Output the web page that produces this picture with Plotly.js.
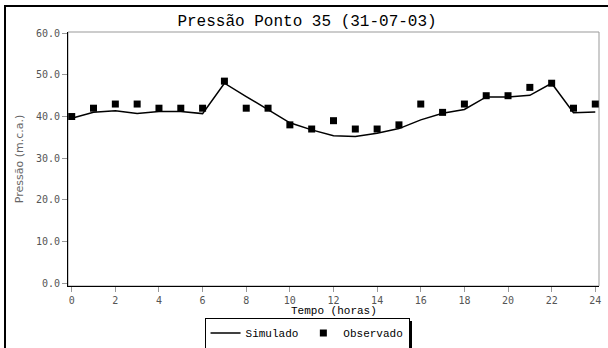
<!DOCTYPE html>
<html><head><meta charset="utf-8">
<script src="https://cdn.plot.ly/plotly-3.0.1.min.js"></script>
<style>
html,body{margin:0;padding:0;background:#fff;}
#wrap{position:relative;width:608px;height:348px;overflow:hidden;}
#chart{width:608px;height:348px;}
#frame{position:absolute;left:4px;top:5px;width:700px;height:400px;border-left:2px solid #000;border-top:2px solid #000;pointer-events:none;}
#shadow{position:absolute;background:#000;pointer-events:none;display:none;}
</style></head>
<body>
<div id="wrap"><div id="shadow"></div><div id="chart"></div><div id="frame"></div></div>
<script>
const hours = [0,1,2,3,4,5,6,7,8,9,10,11,12,13,14,15,16,17,18,19,20,21,22,23,24];
const simulado = [39.6,41.0,41.4,40.7,41.2,41.2,40.7,48.0,44.8,41.6,38.5,36.8,35.4,35.2,36.0,37.1,39.2,40.8,41.7,44.7,44.7,45.1,48.0,40.9,41.1];
const observado = [40,42,43,43,42,42,42,48.5,42,42,38,37,39,37,37,38,43,41,43,45,45,47,48,42,43];
const xTicks = [0,2,4,6,8,10,12,14,16,18,20,22,24];
const yTicks = [0,10,20,30,40,50,60];
const xTitle = "Tempo (horas)";

const mono = "Liberation Mono, Courier New, monospace";
const tickFont = {family: "DejaVu Sans Mono, monospace", size: 10, color: "#555"};

const data = [
  {x: hours, y: simulado, mode: "lines", name: "Simulado",
   line: {color: "#000", width: 1.5}},
  {x: hours, y: observado, mode: "markers", name: "Observado",
   marker: {symbol: "square", size: 7, color: "#000"}}
];

const layout = {
  width: 608, height: 348,
  margin: {l: 68, r: 9, t: 32, b: 62},
  paper_bgcolor: "rgba(0,0,0,0)", plot_bgcolor: "#fff",
  title: {text: "Pressão Ponto 35 (31-07-03)", font: {family: mono, size: 16, color: "#000", weight: "normal"},
          x: 0.505, xanchor: "center", xref: "container", y: 0.94, yanchor: "middle", yref: "container"},
  xaxis: {range: [-0.17, 24.17], tickvals: xTicks, ticktext: xTicks.map(String), automargin: false,
          showgrid: false, zeroline: false, showline: true, linecolor: "#000", linewidth: 1, mirror: false,
          ticks: "outside", ticklen: 5, tickcolor: "#999", tickfont: tickFont},
  yaxis: {range: [-0.7, 60.3], tickvals: yTicks, ticktext: yTicks.map(v => v.toFixed(1)), automargin: false,
          showgrid: false, zeroline: false, showline: true, linecolor: "#000", linewidth: 1, mirror: false,
          ticks: "outside", ticklen: 5, tickcolor: "#999", tickfont: tickFont,
          title: {text: "Pressão (m.c.a.)", font: {family: "DejaVu Sans, sans-serif", size: 11, color: "#666"}, standoff: 10}},
  annotations: [{text: xTitle, xref: "paper", yref: "paper", x: 0.5, y: -0.1, xanchor: "center", yanchor: "middle",
                 showarrow: false, font: {family: mono, size: 11, color: "#000"}}],
  shapes: [{type: "rect", xref: "paper", yref: "paper", x0: 0, x1: 1, y0: 0, y1: 1,
            line: {color: "#999", width: 1}, layer: "below"}],
  showlegend: true,
  legend: {orientation: "h", xref: "container", yref: "container", x: 0.505, xanchor: "center", y: 0.043, yanchor: "middle",
           font: {family: mono, size: 11, color: "#000"},
           bgcolor: "#fff", bordercolor: "#000", borderwidth: 1,
           itemwidth: 30, tracegroupgap: 0}
};

Plotly.newPlot("chart", data, layout, {displayModeBar: false, staticPlot: true}).then(function(gd){
  const bg = gd.querySelector(".legend .bg");
  const wrap = document.getElementById("wrap").getBoundingClientRect();
  if (bg) {
    const r = bg.getBoundingClientRect();
    const s = document.getElementById("shadow");
    s.style.left = (r.left - wrap.left + 3) + "px";
    s.style.top = (r.top - wrap.top + 3) + "px";
    s.style.width = r.width + "px";
    s.style.height = r.height + "px";
    s.style.display = "block";
  }
});
</script>
</body></html>
